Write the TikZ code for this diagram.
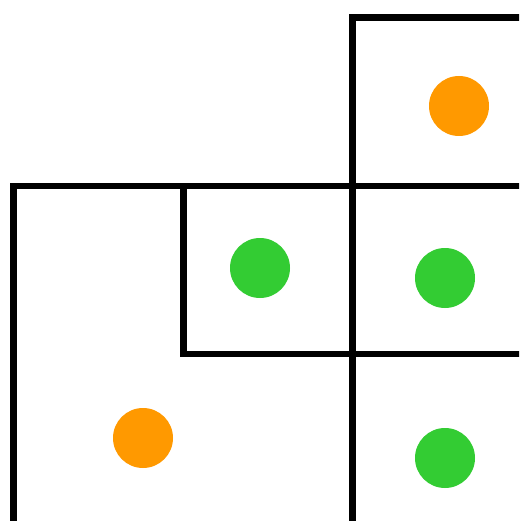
\documentclass[tikz,border=0pt]{standalone}
\begin{document}
\begin{tikzpicture}[x=1pt,y=-1pt,
  wall/.style={line width=6.5pt,black},
  dot/.style={circle,inner sep=0pt,minimum size=60pt,draw=none},
  orangedot/.style={dot,fill={rgb,255:red,255;green,153;blue,0}},
  greendot/.style={dot,fill={rgb,255:red,51;green,204;blue,51}}]
\useasboundingbox (0,0) rectangle (519,521);
\fill[white] (0,0) rectangle (519,521);
\begin{scope}
\clip (0,0) rectangle (519,521);
% top-right box
\draw[wall] (352.5,525) -- (352.5,17.5) -- (525,17.5);
% main horizontal
\draw[wall] (13.5,525) -- (13.5,186) -- (525,186);
% inner box
\draw[wall] (183.5,186) -- (183.5,354) -- (525,354);
\end{scope}
\node[orangedot] (o1) at (459,106) {};
\node[greendot] (g1) at (260,268) {};
\node[greendot] (g2) at (445,278) {};
\node[orangedot] (o2) at (143,438) {};
\node[greendot] (g3) at (445,458) {};
\end{tikzpicture}
\end{document}
